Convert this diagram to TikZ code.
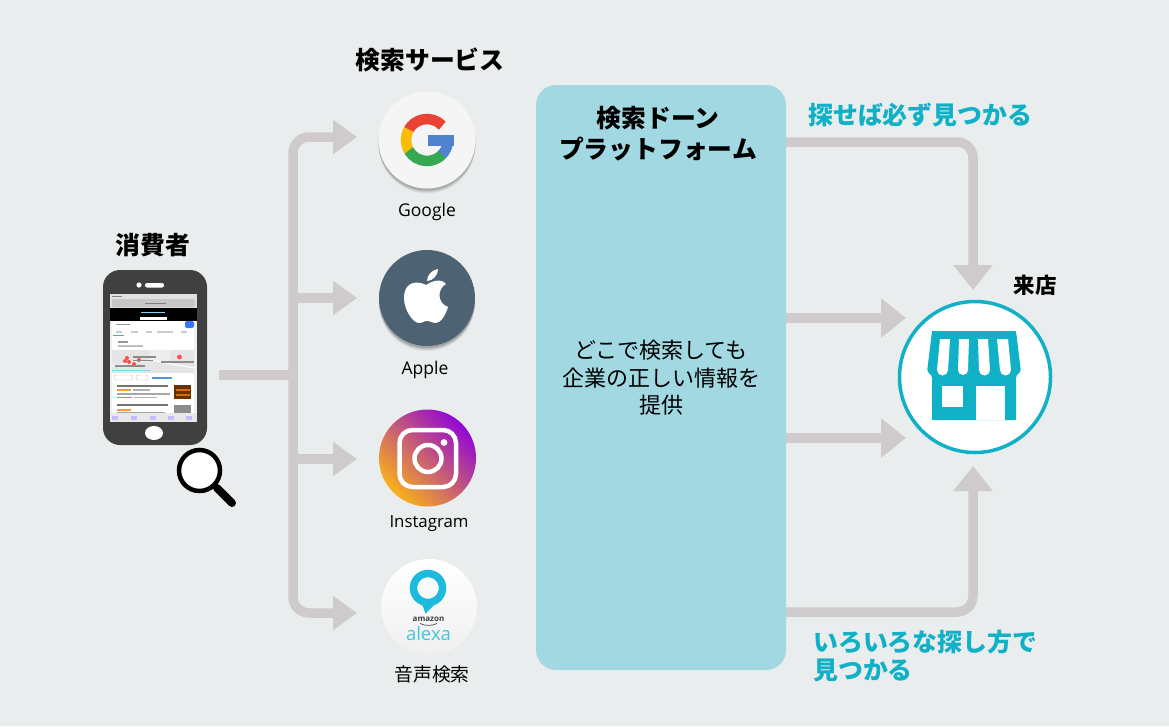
\documentclass[tikz,border=0pt]{standalone}
\usepackage{fontspec}
\setmainfont{Open Sans}
\newfontfamily\jp{Noto Sans CJK JP}
\usetikzlibrary{arrows.meta,shapes.geometric}
\definecolor{bgc}{HTML}{E9EDEE}
\definecolor{conn}{HTML}{CFCBCC}
\definecolor{panelc}{HTML}{A1D8E2}
\definecolor{teal}{HTML}{10B1C7}
\definecolor{phonec}{HTML}{404040}
\definecolor{applec}{HTML}{4D6272}
\definecolor{alexac}{HTML}{1CBBDD}
\definecolor{igy}{HTML}{FDB713}
\definecolor{igm}{HTML}{B85A8C}
\definecolor{igp}{HTML}{8E00DC}
\tikzset{
  x=1pt,y=-1pt,
  link/.style={draw=conn,line width=9.5pt,rounded corners=16pt,line join=round},
  tipa/.style={-{Triangle[length=24pt,width=33pt]}},
  tipb/.style={-{Triangle[length=25pt,width=38pt]}},
  title/.style={font=\jp\bfseries\fontsize{24.8}{31}\selectfont,inner sep=0pt,align=center},
  smalltitle/.style={font=\jp\bfseries\fontsize{21.5}{26}\selectfont,inner sep=0pt},
  tealtxt/.style={font=\jp\bfseries\fontsize{24.9}{28}\selectfont,text=teal,inner sep=0pt,align=left},
  body/.style={font=\jp\fontsize{22}{27.5}\selectfont,inner sep=0pt,align=center},
  caption/.style={font=\fontsize{17.5}{20}\selectfont,inner sep=0pt},
}
\begin{document}
\begin{tikzpicture}
\useasboundingbox (0,0) rectangle (1169,726);
\fill[bgc] (0,0) rectangle (1169,726);

% ---- named connector ends
\coordinate (src) at (219,375);
\coordinate (hub) at (293,375);
\coordinate (b2) at (293,298);
\coordinate (b3) at (293,459);
\coordinate (t1) at (357,137);
\coordinate (t2) at (357,298);
\coordinate (t3) at (357,459);
\coordinate (t4) at (357,613);
\coordinate (o1) at (786,142);
\coordinate (o2) at (786,318);
\coordinate (o3) at (786,438);
\coordinate (o4) at (786,612);
\coordinate (s1) at (973,290);
\coordinate (s2) at (906,318);
\coordinate (s3) at (906,438);
\coordinate (s4) at (973,466);

% ---- connectors
\draw[link] (src) -- (hub);
\draw[link,tipa] (hub) |- (t1);
\draw[link,tipa] (b2) -- (t2);
\draw[link,tipa] (b3) -- (t3);
\draw[link,tipa] (hub) |- (t4);
\draw[link,tipb] (o1) -| (s1);
\draw[link,tipb] (o2) -- (s2);
\draw[link,tipb] (o3) -- (s3);
\draw[link,tipb] (o4) -| (s4);

% ---- panel
\node[draw=none,fill=panelc,rounded corners=20pt,minimum width=250pt,minimum height=585pt,inner sep=0pt] (panel) at (661,377.5) {};
\node[title] (ptitle) at (658,133.5) {検索ドーン\\プラットフォーム};
\node[body] (pbody) at (661,378) {どこで検索しても\\企業の正しい情報を\\提供};

% ---- headings
\node[title] (h1) at (430,60) {検索サービス};
\node[title] (h2) at (153,245) {消費者};
\node[smalltitle] (h3) at (1035,285) {来店};
\node[tealtxt,anchor=west] (n1) at (808,115) {探せば必ず見つかる};
\node[tealtxt,anchor=north west] (n2) at (813,630) {いろいろな探し方で\\見つかる};

% ---- phone
\fill[phonec,rounded corners=17pt] (103,270) rectangle (207,445);
\fill[white] (139,285) circle (2.6);
\fill[white,rounded corners=2pt] (145,283) rectangle (164,287.5);
\fill[white] (154,433) ellipse (9 and 7);
\fill[black!6] (110,294) rectangle (197,422);
\fill[black!12] (110,294) rectangle (197,308);
\fill[black!22,rounded corners=2pt] (112,299) rectangle (195,307);
\fill[black!50] (112,296) rectangle (122,297);
\fill[black!50] (145,302.5) rectangle (166,304);
\fill[black] (110,308) rectangle (197,321);
\fill[white] (140,317) rectangle (167,320);
\draw[cyan!50!white,line width=.7pt] (141,312) -- (165,312);
\fill[white] (112,321) rectangle (194,413);
\fill[white,rounded corners=2pt] (112,321) rectangle (194,328);
\fill[blue!65!cyan!80!white,rounded corners=2pt] (185,321) rectangle (194,328);
\fill[black!40] (116,323.5) rectangle (130,325);
\draw[cyan!70!blue!70!white,line width=.6pt] (113,335) -- (124,335);
\fill[black!20] (116,331) rectangle (122,332.5);
\fill[black!20] (131,331) rectangle (138,332.5);
\fill[black!20] (146,331) rectangle (152,332.5);
\fill[black!20] (157,331) rectangle (173,332.5);
\fill[black!20] (181,331) rectangle (187,332.5);
\fill[black!40] (118,341) rectangle (128,342.5);
\fill[black!25] (118,345) rectangle (143,346.5);
% map
\fill[black!10] (112,350) rectangle (194,373);
\fill[black!7] (150,350) rectangle (170,361);
\draw[white,line width=1pt] (112,366) -- (150,360) -- (194,368);
\draw[cyan!50,line width=.8pt] (112,370) -- (150,370);
\foreach \p in {(127,358),(125,361),(129,362),(134,364),(139,360)}{\fill[red!70!white] \p circle (2);}
\fill[red!70!white] (179.5,357) circle (2.4);
\fill[black!45] (133,356) rectangle (156,357.5);
\fill[black!45] (133,359.5) rectangle (153,361);
\fill[black!45] (115,365) rectangle (145,366.5);
\fill[black!45] (161,361) rectangle (194,362.5);
\draw[black!25,line width=.4pt,rounded corners=2pt] (114,375) rectangle (133,380);
\draw[black!25,line width=.4pt,rounded corners=2pt] (136,375) rectangle (148,380);
\fill[cyan!60!blue!70!white] (152,377) rectangle (172,378.5);
% list
\fill[black!55] (117,385) rectangle (168,386.5);
\fill[orange!80!white] (117,389) rectangle (131,390.5);
\fill[black!30] (133,389) rectangle (150,390.5);
\fill[black!35] (117,393) rectangle (170,394.5);
\fill[red!60!white] (117,396.5) rectangle (132,398);
\fill[black!30] (134,396.5) rectangle (157,398);
\fill[black!60!orange] (174,385) rectangle (191,399);
\fill[orange!85!black] (176,389) rectangle (190,391);
\fill[orange!85!black] (176,394) rectangle (190,396);
\fill[black!55] (117,404) rectangle (168,405.5);
\fill[orange!80!white] (117,409) rectangle (131,410.5);
\fill[black!35] (117,412) rectangle (165,413);
\fill[black!45] (174,405) rectangle (191,413);
\fill[black!9] (110,413) rectangle (197,422);
\foreach \x in {115,134,153,171,189}{\fill[blue!25!white] (\x-3,416) rectangle (\x+3,419.5);}

% magnifier
\draw[black,line width=8pt,line cap=round] (217,488) -- (232,503);
\draw[black,line width=4pt] (200,473) -- (218,490);
\node[circle,draw=black,fill=white,line width=4.5pt,minimum size=41pt,inner sep=0pt] (lens) at (199.5,470.5) {};

% ---- Google
\foreach \o/\k in {5/.10,4/.16,3/.22,2/.30}{\fill[black!50,opacity=\k] (427,140+\o) circle (48.5);}
\node[circle,fill=black!4,minimum size=97pt,inner sep=0pt] (google) at (427,140) {};
\begin{scope}[shift={(427,140)},y=1pt,line width=10.5pt]
\draw[color={rgb,255:red,234;green,67;blue,53}] (43:21) arc (43:152:21);
\draw[color={rgb,255:red,251;green,188;blue,5}] (150:21) arc (150:212:21);
\draw[color={rgb,255:red,52;green,168;blue,83}] (210:21) arc (210:318:21);
\draw[color={rgb,255:red,80;green,130;blue,205}] (316:21) arc (316:358:21);
\end{scope}
\fill[color={rgb,255:red,80;green,130;blue,205}] (428,135) rectangle (453.5,146);
\node[caption] (gl) at (427,212) {Google};

% ---- Apple
\foreach \o/\k in {5/.10,4/.16,3/.22,2/.30}{\fill[black!55,opacity=\k] (427,298+\o) circle (48);}
\node[circle,fill=applec,minimum size=96pt,inner sep=0pt] (apple) at (427,298) {};
\fill[white] (426,285) .. controls (419,281) and (404,280) .. (404,298)
  .. controls (404,310) and (413,323) .. (419,323)
  .. controls (423,323) and (423,321) .. (427,321)
  .. controls (431,321) and (432,323) .. (436,323)
  .. controls (441,323) and (446,314) .. (448,307)
  .. controls (437,303) and (437,289) .. (446,284)
  .. controls (441,278) and (432,281) .. (426,285) -- cycle;
\fill[white] (427,281) .. controls (427,275) and (432,270) .. (438,269)
  .. controls (438,275) and (433,281) .. (427,281) -- cycle;
\node[caption] (al) at (425,370) {Apple};

% ---- Instagram
\begin{scope}
\clip (427.5,458) circle (48.5);
\shade[shading=axis,left color=igy,middle color=igm,right color=igp,shading angle=135] (375,406) rectangle (480,510);
\end{scope}
\node[circle,minimum size=97pt,inner sep=0pt] (insta) at (427.5,458) {};
\draw[white,line width=4.5pt,rounded corners=13pt] (399.5,430) rectangle (456,487);
\draw[white,line width=4.5pt] (428,458.5) circle (13.5);
\fill[white] (444,442.5) circle (3.4);
\node[caption,font=\fontsize{16.8}{20}\selectfont] (il) at (429,524) {Instagram};

% ---- Alexa
\shade[top color=white,bottom color=black!6] (429,607) circle (48);
\node[circle,minimum size=96pt,inner sep=0pt] (alexa) at (429,607) {};
\fill[alexac] (421,601) -- (425.5,613.5) -- (437,602) -- cycle;
\draw[alexac,line width=7.5pt] (428,588) circle (14.5);
\node[inner sep=0pt,font=\bfseries\fontsize{8}{9}\selectfont,text=black!75] (amz) at (428.5,619.5) {amazon};
\draw[black!70,line width=.7pt] (420,623.5) .. controls (425,626) and (432,626) .. (437,623.5);
\node[inner sep=0pt,font=\fontsize{18.5}{20}\selectfont,text=alexac!85!white] (alx) at (428.5,634) {alexa};
\node[inner sep=0pt,font=\jp\fontsize{18.8}{22}\selectfont] (vl) at (432,674) {音声検索};

% ---- store
\node[circle,draw=teal,fill=white,line width=3.5pt,minimum size=151pt,inner sep=0pt] (store) at (975,377) {};
\fill[teal,rounded corners=3pt] (932,331) -- (1016,331) -- (1021,372) -- (1016,375) -- (1016,420) -- (932,420) -- (932,375) -- (927,372) -- cycle;
\fill[teal] (932,331) rectangle (1016,336);
\fill[teal] (932,400) rectangle (1016,420);
\fill[white] (942,386) rectangle (963,407);
\fill[white] (976,386) rectangle (1005,420);
\foreach \a/\b/\c/\d in {940/950/937/948, 959/969/958/968, 978/988/979/990, 997/1008/1000/1011}{
  \fill[white] (\a,339) -- (\b,339) -- (\d,370) arc[start angle=0,end angle=180,radius=(\d-\c)/2] -- cycle;
}
\end{tikzpicture}
\end{document}
